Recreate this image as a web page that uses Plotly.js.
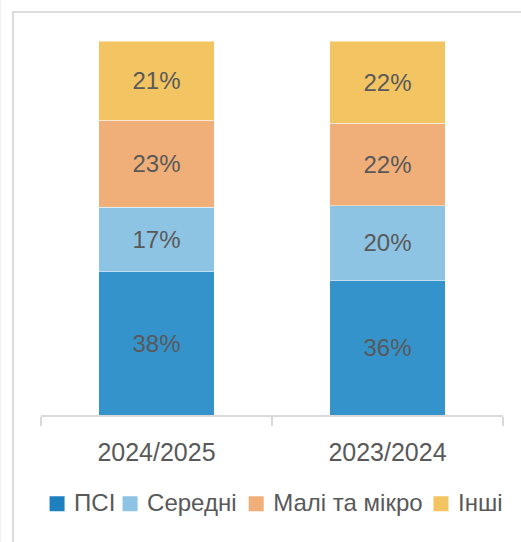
<!DOCTYPE html>
<html>
<head>
<meta charset="utf-8">
<script src="https://cdn.plot.ly/plotly-3.0.1.min.js"></script>
<style>
  html, body { margin: 0; padding: 0; background: #fff; }
  #edge { position: absolute; left: 0; top: 0; width: 1px; height: 542px; background: #f0f0f0; }
  #frame { position: absolute; left: 12px; top: 11px; width: 530px; height: 540px;
           border-left: 2px solid #dcdcdc; border-top: 2px solid #dcdcdc; }
  #chart { position: absolute; left: 0; top: 0; width: 521px; height: 542px; }
</style>
</head>
<body>
<div id="edge"></div>
<div id="frame"></div>
<div id="chart"></div>
<script>
const categories = ["2024/2025", "2023/2024"];
const seriesNames = ["ПСІ", "Середні", "Малі та мікро", "Інші"];
const psi = [38, 36];
const seredni = [17, 20];
const mali = [23, 22];
const inshi = [21, 22];
const seriesValues = [psi, seredni, mali, inshi];
const colors = ["#3593CC", "#8EC4E3", "#F0AF78", "#F2C462"];
const legendColors = ["#1F80C0", "#8EC4E3", "#F0AF78", "#F2C462"];

const FONT = "Liberation Sans, Arial, sans-serif";
const legendIds = ["legend", "legend2", "legend3", "legend4"];
const legendX = [-0.015, 0.143, 0.416, 0.816];

const traces = seriesValues.map((vals, i) => ({
  type: "bar",
  name: seriesNames[i],
  legend: legendIds[i],
  x: categories,
  y: vals,
  text: vals.map(v => v + "%"),
  textposition: "inside",
  insidetextanchor: "middle",
  textangle: 0,
  constraintext: "none",
  textfont: { family: FONT, size: 24, color: "#595959" },
  marker: { color: colors[i], line: { color: "rgba(255,255,255,0.6)", width: 0.75 } },
  hoverinfo: "skip"
}));

const layout = {
  width: 521,
  height: 542,
  margin: { l: 41, r: 18, t: 41, b: 127 },
  paper_bgcolor: "rgba(0,0,0,0)",
  plot_bgcolor: "rgba(0,0,0,0)",
  barmode: "stack",
  barnorm: "percent",
  bargap: 0.5,
  showlegend: true,
  xaxis: {
    type: "category",
    showline: true, linecolor: "#d9d9d9", linewidth: 1.5,
    ticks: "outside", ticklen: 9, tickcolor: "#d9d9d9", tickwidth: 1.5,
    tickson: "boundaries",
    ticklabelstandoff: 14,
    tickfont: { family: FONT, size: 25, color: "#595959" },
    showgrid: false, zeroline: false, fixedrange: true
  },
  yaxis: {
    range: [0, 100],
    visible: false,
    showgrid: false, zeroline: false, fixedrange: true
  }
};

legendIds.forEach((id, i) => {
  layout[id] = {
    orientation: "h",
    x: legendX[i], xanchor: "left",
    y: -0.233, yanchor: "middle",
    bgcolor: "rgba(0,0,0,0)",
    borderwidth: 0,
    font: { family: FONT, size: 24, color: "#595959" },
    itemwidth: 30
  };
});

Plotly.newPlot("chart", traces, layout, { displayModeBar: false, staticPlot: true }).then(gd => {
  // enlarge legend swatches to match the reference's 15px squares
  legendIds.forEach((id, i) => {
    const cls = id === "legend" ? "legend" : id;
    const g = gd.querySelector("g." + cls);
    if (!g) return;
    g.querySelectorAll(".legendpoints path").forEach(p => {
      p.setAttribute("d", "M10.5,9.5H-4.5V-5.5H10.5Z");
      p.style.fill = legendColors[i];
      p.style.stroke = "none";
    });
  });
});
</script>
</body>
</html>
